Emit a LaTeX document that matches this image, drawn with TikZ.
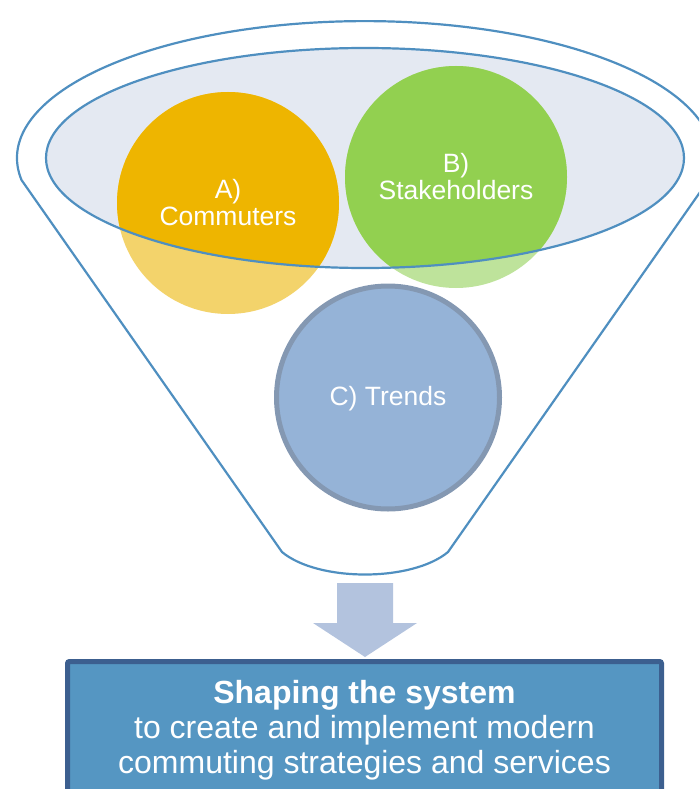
\documentclass[tikz,border=0pt]{standalone}
\usepackage{fontspec}
\setmainfont{Liberation Sans}
\definecolor{funnelblue}{HTML}{4F8FC0}
\definecolor{bowlfill}{HTML}{E4E9F2}
\definecolor{orangefull}{HTML}{EEB500}
\definecolor{orangelight}{HTML}{F3D36B}
\definecolor{greenfull}{HTML}{92D050}
\definecolor{greenlight}{HTML}{BEE39B}
\definecolor{trendfill}{HTML}{95B3D7}
\definecolor{trendline}{HTML}{8498B2}
\definecolor{arrowfill}{HTML}{B3C3DE}
\definecolor{boxfill}{HTML}{5596C2}
\definecolor{boxline}{HTML}{3C5F8F}
\begin{document}
\begin{tikzpicture}[x=1pt,y=-1pt,
  funnelline/.style={draw=funnelblue, line width=2.2pt, line join=round},
  ball/.style={circle, inner sep=0pt, outer sep=0pt, minimum size=222pt},
  balltext/.style={text=white, align=center, font=\fontsize{26.5}{27}\selectfont},
  boxtext/.style={text=white, align=center, font=\fontsize{32}{35}\selectfont}]
\useasboundingbox (0,0) rectangle (699,789);
\clip (0,0) rectangle (699,789);

% funnel body: upper elliptic rim, straight sides, rounded spout
\draw[funnelline] (21.5,180) arc[start angle=170.8, end angle=369.2, x radius=348, y radius=137]
  -- (448,552) .. controls (412,582) and (318,582) .. (282,552) -- cycle;

% inner opening of the funnel
\fill[bowlfill] (365,158) ellipse [x radius=319, y radius=110];

% the two upper balls, paler where they stick out of the opening
\node[ball, fill=orangelight] (A) at (228,203) {};
\node[ball, fill=greenlight] (B) at (456,177) {};
\begin{scope}
  \clip (365,158) ellipse [x radius=319, y radius=110];
  \fill[orangefull] (A.center) circle[radius=111];
  \fill[greenfull] (B.center) circle[radius=111];
\end{scope}
\draw[funnelline] (365,158) ellipse [x radius=319, y radius=110];

\node[balltext] (Atext) at (A.center) {A)\\Commuters};
\node[balltext] (Btext) at (B.center) {B)\\Stakeholders};

% third ball inside the funnel
\node[ball, minimum size=223pt, fill=trendfill, draw=trendline, line width=5pt] (C) at (388,397.5) {};
\node[balltext] (Ctext) at ([yshift=-1pt]C.center) {C) Trends};

% result box and the arrow leading into it
\draw[boxline, fill=boxfill, line width=5pt, rounded corners=2pt] (67.5,661.5) rectangle (661.5,830);
\coordinate (boxtop) at (365,657);
\fill[arrowfill] (337,583) -- (393,583) -- (393,623) -- (417,623) -- (boxtop) -- (313,623) -- (337,623) -- cycle;

\node[boxtext] (result) at (364.5,730) {\textbf{Shaping the system}\\to create and implement modern\\commuting strategies and services};
\end{tikzpicture}
\end{document}
